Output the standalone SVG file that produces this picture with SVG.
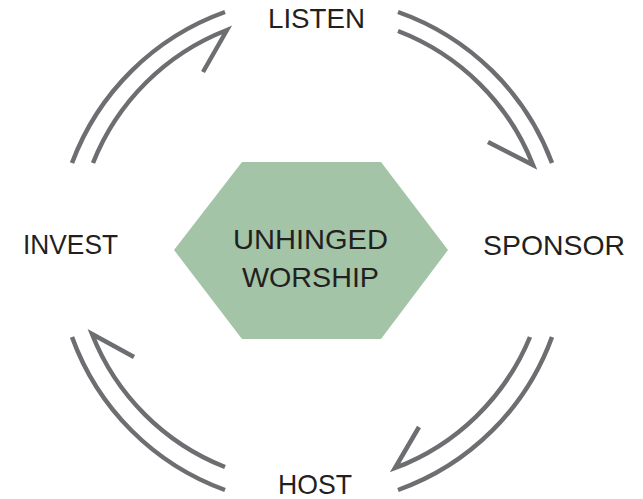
<svg xmlns="http://www.w3.org/2000/svg" width="643" height="499" viewBox="0 0 643 499">
<style>
.lbl{font-family:"Liberation Sans",Arial,sans-serif;font-size:28px;fill:#231f20;text-anchor:middle}
.c{fill:none;stroke:#6d6e71;stroke-width:4.5}
</style>
<rect width="643" height="499" fill="#ffffff"/>
<g id="center">
<polygon points="242,162 381,162 448,250 381,339 242,339 174,250" fill="#a3c4a6"/>
<text class="lbl" x="310.5" y="249" textLength="155" lengthAdjust="spacingAndGlyphs">UNHINGED</text>
<text class="lbl" x="310.5" y="287" textLength="137" lengthAdjust="spacingAndGlyphs">WORSHIP</text>
</g>
<g id="listen"><text class="lbl" x="316.5" y="28" textLength="97" lengthAdjust="spacingAndGlyphs">LISTEN</text></g>
<g id="sponsor"><text class="lbl" x="554" y="255" textLength="142" lengthAdjust="spacingAndGlyphs">SPONSOR</text></g>
<g id="host"><text class="lbl" x="315" y="494" textLength="74" lengthAdjust="spacingAndGlyphs">HOST</text></g>
<g id="invest"><text class="lbl" x="70.5" y="254" textLength="95" lengthAdjust="spacingAndGlyphs">INVEST</text></g>
<g id="connectors">
<path class="c" d="M398 12 A255 255 0 0 1 552 163"/>
<path class="c" d="M398 31 A236 236 0 0 1 533 165 L488 142"/>
<path class="c" d="M552 337 A255 255 0 0 1 398 490"/>
<path class="c" d="M530 337 A236 236 0 0 1 395 468 L419 427"/>
<path class="c" d="M225 490 A255 255 0 0 1 72 337"/>
<path class="c" d="M225 467 A236 236 0 0 1 92 334 L134 357"/>
<path class="c" d="M72 163 A255 255 0 0 1 225 12"/>
<path class="c" d="M93 163 A236 236 0 0 1 227 30 L203 72"/>
</g>
</svg>
